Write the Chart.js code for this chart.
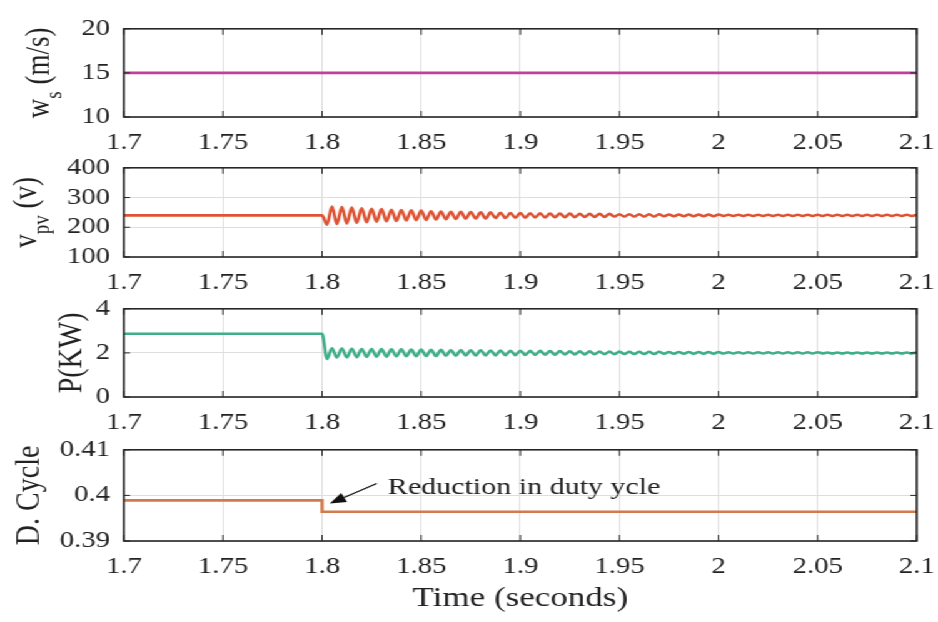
<!DOCTYPE html>
<html><head><meta charset="utf-8">
<script src="https://cdn.jsdelivr.net/npm/chart.js@4.4.0/dist/chart.umd.min.js"></script>
<style>
html,body{margin:0;padding:0;background:#fff;overflow:hidden;width:938px;height:622px;}
#wrap{position:absolute;left:0;top:0;width:760px;height:622px;transform:scale(1.25067,1);transform-origin:0 0;}
#wrap canvas{position:absolute;left:0;}
</style></head><body><div id="wrap">
<canvas id="c1" width="760" height="153" style="top:4px;width:760px;height:153px"></canvas>
<canvas id="c2" width="760" height="154" style="top:143px;width:760px;height:154px"></canvas>
<canvas id="c3" width="760" height="153" style="top:284px;width:760px;height:153px"></canvas>
<canvas id="c4" width="760" height="196" style="top:425px;width:760px;height:196px"></canvas>
</div>
<script>
// ---------- data ----------
const xTicks = [1.7, 1.75, 1.8, 1.85, 1.9, 1.95, 2, 2.05, 2.1];
const wsTicks = [10, 15, 20];
const vpvTicks = [100, 200, 300, 400];
const pTicks = [0, 2, 4];
const dutyTicks = [0.39, 0.4, 0.41];

const wsTimes = [1.7, 2.1];
const wsValues = [15, 15];

const preTimes = [1.7, 1.8];
const vpvPre = [240, 240];
const pPre = [2.87, 2.87];

// oscillation extremes after the step, one value every half period
const oscStart = 1.8;
const halfPeriod = 0.0025;
const vpvOsc = [
 209,270,211,268,213,266,215,264,217,262,
 219,261,220,259,221,258,223,257,224,256,
 225,254,226,253,227,252,228,252,229,251,
 230,250,230,250,231,249,231,248,232,248,
 232,247,233,247,233,246,234,246,234,246,
 234,245,235,245,235,245,235,245,236,244,
 236,244,236,244,236,244,236,244,237,243,
 237,243,237,243,237,243,237,243,237,243,
 238,242,238,242,238,242,238,242,238,242,
 238,242,238,242,238,242,238,242,238,242,
 238,242,238,242,238,242,238,242,238,242,
 238,242,238,242,238,242,238,242,238,242
];
const pOsc = [
 1.73,2.21,1.79,2.20,1.80,2.19,1.81,2.18,1.82,2.18,
 1.83,2.17,1.83,2.16,1.84,2.16,1.85,2.15,1.85,2.15,
 1.86,2.14,1.86,2.14,1.87,2.13,1.87,2.13,1.88,2.12,
 1.88,2.12,1.89,2.11,1.89,2.11,1.90,2.10,1.90,2.10,
 1.91,2.09,1.91,2.09,1.92,2.08,1.92,2.08,1.93,2.07,
 1.93,2.07,1.93,2.07,1.94,2.06,1.94,2.06,1.94,2.06,
 1.95,2.05,1.95,2.05,1.95,2.05,1.95,2.05,1.96,2.04,
 1.96,2.04,1.96,2.04,1.96,2.04,1.96,2.04,1.96,2.04,
 1.97,2.03,1.97,2.03,1.97,2.03,1.97,2.03,1.97,2.03,
 1.97,2.03,1.97,2.03,1.97,2.03,1.97,2.03,1.97,2.03,
 1.98,2.02,1.98,2.02,1.98,2.02,1.98,2.02,1.98,2.02,
 1.98,2.02,1.98,2.02,1.98,2.02,1.98,2.02,1.98,2.02
];

const dutyTimes = [1.7, 1.8, 1.8, 2.1];
const dutyValues = [0.3989, 0.3989, 0.3964, 0.3964];

const annotText = 'Reduction in duty ycle';
const annotTextPos = [1.8332, 0.4002];
const annotTail = [1.8276, 0.4026];
const annotTip = [1.8039, 0.3982];

// ---------- helpers ----------
const FONT = "'Liberation Serif','Times New Roman',Times,serif";
const TXT = '#222222';
const GRID = '#dedede';

function pts(times, values) { return times.map((t, i) => ({x: t, y: values[i]})); }
function oscPts(pre, preT, osc) {
  const out = pts(preT, pre);
  osc.forEach((v, i) => out.push({x: oscStart + (i + 1) * halfPeriod, y: v}));
  return out;
}

const boxPlugin = {
  id: 'mbox',
  afterDraw(chart) {
    const {ctx, chartArea: a, scales: {x, y}} = chart;
    ctx.save();
    ctx.strokeStyle = '#262626';
    ctx.lineWidth = 1;
    ctx.beginPath();
    x.ticks.forEach(t => {
      const px = x.getPixelForValue(t.value);
      ctx.moveTo(px, a.bottom); ctx.lineTo(px, a.bottom - 6);
      ctx.moveTo(px, a.top); ctx.lineTo(px, a.top + 6);
    });
    y.ticks.forEach(t => {
      const py = y.getPixelForValue(t.value);
      ctx.moveTo(a.left, py); ctx.lineTo(a.left + 5, py);
      ctx.moveTo(a.right, py); ctx.lineTo(a.right - 5, py);
    });
    ctx.stroke();
    ctx.lineWidth = 1.6;
    ctx.strokeRect(a.left, a.top, a.right - a.left, a.bottom - a.top);
    ctx.restore();
  }
};

const yTitlePlugin = {
  id: 'ytitle',
  afterDraw(chart, args, opts) {
    if (!opts || !opts.parts) return;
    const {ctx, chartArea: a} = chart;
    const cy = (a.top + a.bottom) / 2;
    ctx.save();
    ctx.translate(opts.x, cy);
    ctx.rotate(-Math.PI / 2);
    ctx.fillStyle = TXT;
    ctx.textBaseline = 'middle';
    ctx.textAlign = 'left';
    const mainF = opts.size + 'px ' + FONT;
    const subF = opts.subSize + 'px ' + FONT;
    let total = 0;
    const widths = opts.parts.map(p => { ctx.font = p.sub ? subF : mainF; const w = ctx.measureText(p.t).width; total += w; return w; });
    let cx = -total / 2;
    opts.parts.forEach((p, i) => {
      ctx.font = p.sub ? subF : mainF;
      ctx.fillText(p.t, cx, p.sub ? opts.subDrop : 0);
      cx += widths[i];
    });
    ctx.restore();
  }
};

const annotPlugin = {
  id: 'annot',
  afterDraw(chart, args, opts) {
    if (!opts || !opts.on) return;
    const {ctx, scales: {x, y}} = chart;
    const tx = x.getPixelForValue(annotTextPos[0]), ty = y.getPixelForValue(annotTextPos[1]);
    const ax = x.getPixelForValue(annotTail[0]), ay = y.getPixelForValue(annotTail[1]);
    const bx = x.getPixelForValue(annotTip[0]), by = y.getPixelForValue(annotTip[1]);
    ctx.save();
    ctx.fillStyle = TXT;
    ctx.font = '24px ' + FONT;
    ctx.textBaseline = 'alphabetic';
    ctx.textAlign = 'left';
    ctx.fillText(annotText, tx, ty);
    // arrow
    const ang = Math.atan2(by - ay, bx - ax);
    const hl = 13, hw = 5;
    const baseX = bx - hl * Math.cos(ang), baseY = by - hl * Math.sin(ang);
    ctx.strokeStyle = '#111';
    ctx.lineWidth = 1.3;
    ctx.beginPath(); ctx.moveTo(ax, ay); ctx.lineTo(baseX, baseY); ctx.stroke();
    ctx.beginPath();
    ctx.moveTo(bx, by);
    ctx.lineTo(baseX + hw * Math.sin(ang), baseY - hw * Math.cos(ang));
    ctx.lineTo(baseX - hw * Math.sin(ang), baseY + hw * Math.cos(ang));
    ctx.closePath();
    ctx.fillStyle = '#111';
    ctx.fill();
    ctx.restore();
  }
};

function makePanel(id, data, color, yTicks, ytitle, last, extraPlugins) {
  const xh = last ? 80 : 40;
  return new Chart(document.getElementById(id), {
    type: 'line',
    data: {datasets: [{
      data: data, borderColor: color, borderWidth: 2.6, pointRadius: 0,
      fill: false, cubicInterpolationMode: 'monotone'
    }]},
    plugins: [boxPlugin, yTitlePlugin, annotPlugin],
    options: {
      responsive: false, animation: false, devicePixelRatio: 1,
      layout: {padding: {left: 0, right: 27, top: 16, bottom: 0}},
      plugins: {
        legend: {display: false}, tooltip: {enabled: false},
        ytitle: ytitle,
        annot: {on: !!extraPlugins}
      },
      scales: {
        x: {
          type: 'linear', min: xTicks[0], max: xTicks[xTicks.length - 1],
          afterBuildTicks: s => { s.ticks = xTicks.map(v => ({value: v})); },
          afterFit: s => { s.height = xh; },
          grid: {color: GRID, lineWidth: 1, drawTicks: false},
          border: {display: false},
          ticks: {padding: 12, color: TXT, font: {family: FONT, size: 23}, maxRotation: 0, autoSkip: false, callback: v => String(v)},
          title: {display: last, text: 'Time (seconds)', color: TXT, font: {family: FONT, size: 28}, padding: {top: 0, bottom: 6}}
        },
        y: {
          type: 'linear', min: yTicks[0], max: yTicks[yTicks.length - 1],
          afterBuildTicks: s => { s.ticks = yTicks.map(v => ({value: v})); },
          afterFit: s => { s.width = 99; },
          grid: {color: GRID, lineWidth: 1, drawTicks: false},
          border: {display: false},
          ticks: {padding: 11, color: TXT, font: {family: FONT, size: 23}, autoSkip: false, callback: v => String(v)}
        }
      }
    }
  });
}

makePanel('c1', pts(wsTimes, wsValues), '#c2409a', wsTicks,
  {parts: [{t: 'w'}, {t: 's', sub: true}, {t: ' (m/s)'}], x: 32, size: 27, subSize: 19, subDrop: 12}, false);
makePanel('c2', oscPts(vpvPre, preTimes, vpvOsc), '#dd5333', vpvTicks,
  {parts: [{t: 'v'}, {t: 'pv', sub: true}, {t: ' (v)'}], x: 22, size: 27, subSize: 19, subDrop: 12}, false);
makePanel('c3', oscPts(pPre, preTimes, pOsc), '#3fae8a', pTicks,
  {parts: [{t: 'P(KW)'}], x: 58, size: 28, subSize: 19, subDrop: 0}, false);
makePanel('c4', pts(dutyTimes, dutyValues), '#d27a4c', dutyTicks,
  {parts: [{t: 'D. Cycle'}], x: 24, size: 28, subSize: 19, subDrop: 0}, true, true);
</script></body></html>
